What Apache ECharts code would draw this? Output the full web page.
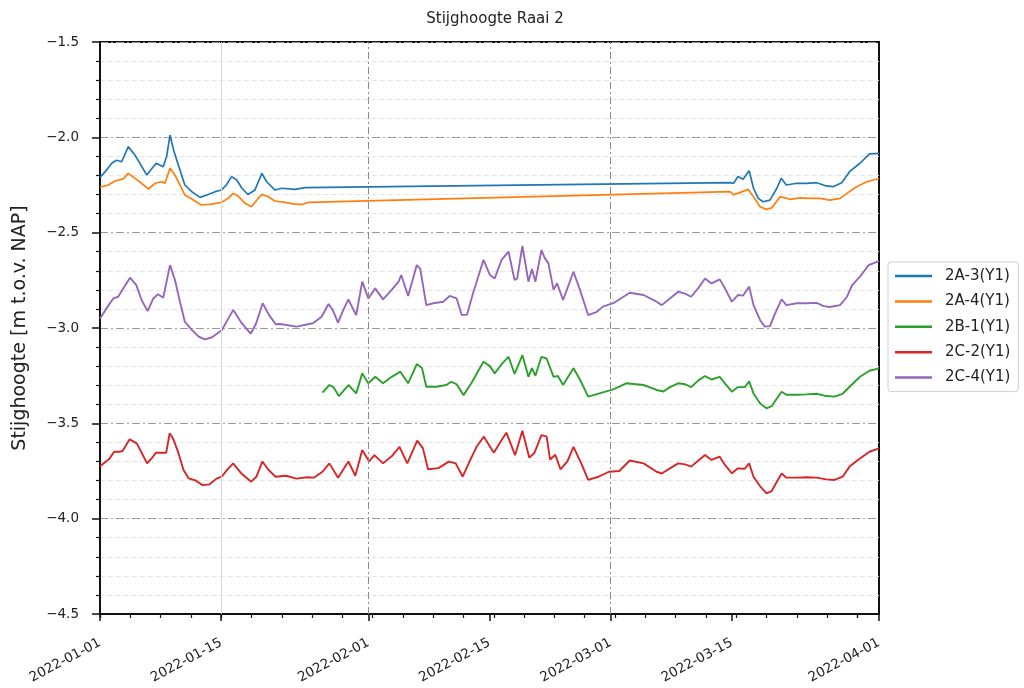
<!DOCTYPE html>
<html>
<head>
<meta charset="utf-8">
<title>Stijghoogte Raai 2</title>
<script src="https://cdn.jsdelivr.net/npm/echarts@6/dist/echarts.min.js"></script>
<style>
  html, body { margin: 0; padding: 0; background: #fff; }
  #chart { width: 1024px; height: 688px; }
</style>
</head>
<body>
<div id="chart"></div>
<script>
// day offsets from 2022-01-01, value in m t.o.v. NAP
const s2A3 = [[0,-2.21],[0.6,-2.18],[1.35,-2.136],[1.9,-2.12],[2.5,-2.128],[3.27,-2.049],[4.04,-2.093],[4.6,-2.135],[5.4,-2.198],[6.16,-2.154],[6.5,-2.136],[7.3,-2.154],[7.7,-2.10],[8.09,-1.988],[8.5,-2.066],[9.05,-2.145],[9.8,-2.25],[10.6,-2.285],[11.55,-2.315],[12.5,-2.30],[13.3,-2.285],[14.05,-2.276],[14.6,-2.25],[15.2,-2.206],[15.8,-2.224],[16.4,-2.267],[17.1,-2.30],[17.9,-2.276],[18.7,-2.189],[19.25,-2.233],[20.2,-2.276],[21,-2.267],[22.5,-2.273],[23.7,-2.264],[72.8,-2.238],[73.2,-2.241],[73.7,-2.206],[74.3,-2.22],[75.0,-2.175],[75.5,-2.267],[76.05,-2.32],[76.6,-2.338],[77.4,-2.329],[78.2,-2.267],[78.7,-2.215],[79.3,-2.25],[80.5,-2.241],[81.6,-2.241],[82.8,-2.238],[83.9,-2.255],[84.7,-2.259],[85.7,-2.238],[86.6,-2.18],[87.8,-2.136],[88.9,-2.087],[90,-2.084]];
const s2A4 = [[0,-2.262],[0.96,-2.25],[1.73,-2.229],[2.7,-2.218],[3.27,-2.189],[4.04,-2.215],[4.8,-2.241],[5.6,-2.271],[6.35,-2.241],[7.1,-2.233],[7.5,-2.241],[8.09,-2.162],[8.66,-2.198],[9.24,-2.25],[9.8,-2.302],[10.6,-2.323],[11.7,-2.355],[12.9,-2.35],[14.05,-2.341],[14.8,-2.32],[15.4,-2.294],[16,-2.31],[16.75,-2.346],[17.5,-2.364],[18.1,-2.33],[18.7,-2.299],[19.4,-2.31],[20.2,-2.334],[21.4,-2.341],[22.5,-2.35],[23.3,-2.352],[24.1,-2.341],[72.8,-2.285],[73.2,-2.302],[73.9,-2.29],[74.9,-2.273],[75.5,-2.311],[76.25,-2.364],[77.0,-2.378],[77.6,-2.37],[78.6,-2.311],[79.7,-2.325],[80.9,-2.318],[82.0,-2.32],[83.2,-2.32],[84.3,-2.329],[85.5,-2.32],[86.3,-2.294],[87.4,-2.259],[88.6,-2.233],[90,-2.216]];
const s2B1 = [[25.7,-3.339],[26.5,-3.299],[26.95,-3.31],[27.6,-3.357],[28.7,-3.299],[29.6,-3.343],[30.3,-3.238],[31,-3.29],[31.8,-3.256],[32.7,-3.29],[33.7,-3.256],[34.7,-3.229],[35.6,-3.29],[36.6,-3.189],[37.2,-3.21],[37.7,-3.308],[38.9,-3.308],[40.0,-3.299],[40.6,-3.282],[41.2,-3.295],[42,-3.352],[42.9,-3.29],[44.3,-3.177],[45.05,-3.2],[45.6,-3.238],[46.4,-3.19],[47.2,-3.151],[47.9,-3.241],[48.8,-3.142],[49.5,-3.256],[49.9,-3.21],[50.3,-3.25],[51.0,-3.151],[51.6,-3.16],[52.4,-3.256],[52.9,-3.252],[53.5,-3.299],[54.7,-3.211],[55.45,-3.27],[56.4,-3.36],[57.4,-3.347],[58.3,-3.335],[59.3,-3.322],[60.8,-3.29],[62.8,-3.299],[64.3,-3.325],[65.1,-3.333],[65.85,-3.31],[66.8,-3.29],[67.6,-3.295],[68.3,-3.31],[69.1,-3.276],[69.9,-3.252],[70.65,-3.27],[71.6,-3.256],[72.2,-3.29],[73.0,-3.334],[73.7,-3.31],[74.5,-3.31],[75.0,-3.28],[75.5,-3.343],[76.25,-3.395],[77.0,-3.421],[77.6,-3.41],[78.2,-3.37],[78.75,-3.334],[79.3,-3.35],[80.5,-3.35],[81.6,-3.348],[82.8,-3.345],[83.9,-3.357],[84.85,-3.36],[85.8,-3.345],[86.6,-3.308],[87.8,-3.256],[88.9,-3.224],[90,-3.212]];
const s2C2 = [[0,-3.725],[1.03,-3.689],[1.63,-3.649],[2.23,-3.649],[2.6,-3.645],[3.43,-3.584],[4.24,-3.605],[4.84,-3.657],[5.44,-3.71],[6.04,-3.68],[6.45,-3.654],[7.25,-3.654],[7.65,-3.654],[8.05,-3.552],[8.45,-3.58],[9.05,-3.654],[9.65,-3.745],[10.25,-3.789],[11.05,-3.80],[11.85,-3.824],[12.66,-3.82],[13.46,-3.79],[14.06,-3.78],[14.66,-3.745],[15.39,-3.71],[16.27,-3.76],[17.47,-3.806],[18.07,-3.78],[18.76,-3.701],[19.48,-3.745],[20.28,-3.78],[21.5,-3.775],[22.7,-3.79],[23.9,-3.783],[24.7,-3.785],[25.7,-3.754],[26.5,-3.71],[27.5,-3.785],[28.7,-3.70],[29.5,-3.775],[30.3,-3.64],[31.1,-3.70],[31.7,-3.667],[32.7,-3.71],[33.7,-3.673],[34.6,-3.623],[35.5,-3.71],[36.65,-3.591],[37.3,-3.63],[37.9,-3.741],[39.1,-3.735],[40.3,-3.701],[41.1,-3.71],[41.9,-3.78],[42.7,-3.70],[43.5,-3.623],[44.35,-3.57],[45.5,-3.654],[46.4,-3.588],[46.95,-3.549],[47.95,-3.667],[48.8,-3.539],[49.6,-3.68],[50.2,-3.654],[51.0,-3.562],[51.6,-3.57],[52.0,-3.69],[52.6,-3.665],[53.2,-3.741],[54.0,-3.70],[54.7,-3.623],[55.6,-3.71],[56.4,-3.797],[57.6,-3.78],[58.8,-3.754],[60.0,-3.75],[61.2,-3.695],[62.8,-3.71],[64.3,-3.754],[64.9,-3.763],[65.85,-3.736],[66.8,-3.71],[67.6,-3.715],[68.3,-3.727],[69.1,-3.696],[69.9,-3.666],[70.65,-3.692],[71.6,-3.675],[72.2,-3.718],[73.0,-3.762],[73.7,-3.736],[74.5,-3.738],[75.0,-3.71],[75.5,-3.78],[76.25,-3.829],[77.0,-3.867],[77.6,-3.855],[78.2,-3.806],[78.75,-3.763],[79.3,-3.785],[80.5,-3.785],[81.6,-3.783],[82.8,-3.785],[83.9,-3.794],[84.85,-3.797],[85.8,-3.78],[86.6,-3.727],[87.8,-3.684],[88.9,-3.649],[90,-3.631]];
const s2C4 = [[0,-2.95],[1,-2.88],[1.54,-2.845],[2.1,-2.836],[2.7,-2.792],[3.47,-2.736],[4.2,-2.775],[4.8,-2.853],[5.5,-2.911],[6.16,-2.845],[6.7,-2.823],[7.3,-2.841],[8.09,-2.67],[8.66,-2.748],[9.24,-2.862],[9.8,-2.967],[10.6,-3.01],[11.4,-3.045],[12.1,-3.06],[12.9,-3.05],[13.5,-3.03],[14.1,-3.01],[14.7,-2.96],[15.4,-2.905],[16.3,-2.97],[17.4,-3.03],[18.0,-2.98],[18.8,-2.87],[19.5,-2.93],[20.3,-2.98],[20.8,-2.979],[22.7,-2.993],[24.6,-2.975],[25.6,-2.941],[26.4,-2.874],[26.9,-2.906],[27.5,-2.972],[28.1,-2.906],[28.7,-2.85],[29.1,-2.888],[29.6,-2.932],[30.3,-2.757],[31,-2.845],[31.8,-2.792],[32.7,-2.85],[33.7,-2.80],[34.5,-2.757],[34.8,-2.722],[35.6,-2.832],[36.6,-2.67],[37,-2.69],[37.7,-2.88],[38.5,-2.87],[39.65,-2.862],[40.4,-2.832],[41.2,-2.845],[41.8,-2.932],[42.4,-2.93],[43.1,-2.818],[44.3,-2.643],[45.05,-2.722],[45.6,-2.74],[46.4,-2.643],[47.2,-2.60],[47.9,-2.748],[48.2,-2.74],[48.8,-2.57],[49.5,-2.757],[49.9,-2.69],[50.3,-2.757],[51.0,-2.591],[51.4,-2.635],[51.8,-2.66],[52.4,-2.80],[52.8,-2.765],[53.5,-2.853],[54.7,-2.705],[55.45,-2.80],[56.4,-2.932],[57.4,-2.915],[58.1,-2.888],[59.3,-2.87],[60.8,-2.827],[61.2,-2.815],[62.8,-2.827],[64.3,-2.862],[64.9,-2.88],[65.85,-2.845],[66.8,-2.81],[67.6,-2.82],[68.3,-2.836],[69.1,-2.792],[69.9,-2.74],[70.65,-2.766],[71.6,-2.745],[72.2,-2.792],[73.0,-2.862],[73.7,-2.827],[74.3,-2.83],[75.0,-2.783],[75.5,-2.88],[76.25,-2.958],[76.8,-2.993],[77.4,-2.99],[78,-2.923],[78.75,-2.85],[79.3,-2.88],[80.5,-2.87],[81.6,-2.87],[82.8,-2.868],[83.6,-2.885],[84.3,-2.89],[85.5,-2.88],[86.3,-2.836],[86.9,-2.775],[87.8,-2.731],[88.8,-2.67],[90,-2.649]];

const seriesNames = ['2A-3(Y1)', '2A-4(Y1)', '2B-1(Y1)', '2C-2(Y1)', '2C-4(Y1)'];
const seriesColors = ['#1f77b4', '#ff7f0e', '#2ca02c', '#d62728', '#9467bd'];
const xTickDates = ['2022-01-01', '2022-01-15', '2022-02-01', '2022-02-15', '2022-03-01', '2022-03-15', '2022-04-01'];
const yTicks = [-4.5, -4.0, -3.5, -3.0, -2.5, -2.0, -1.5];

const DAY = 86400000;
const base = new Date(2022, 0, 1).getTime();
function toTime(d) { return base + d * DAY; }
function parseDate(s) { const p = s.split('-'); return new Date(+p[0], +p[1] - 1, +p[2]).getTime(); }

const tickTimes = xTickDates.map(parseDate);
const minorTimes = [];
for (let d = 0; d <= 90; d += 3.5) minorTimes.push(toTime(d));

const font = 'DejaVu Sans';
const chart = echarts.init(document.getElementById('chart'), null, { renderer: 'canvas' });

const seriesData = [s2A3, s2A4, s2B1, s2C2, s2C4];
const widths = [1.7, 1.7, 1.9, 1.9, 1.9];

const series = seriesData.map((arr, i) => ({
  name: seriesNames[i],
  type: 'line',
  showSymbol: false,
  symbol: 'none',
  z: 3,
  color: seriesColors[i],
  lineStyle: { width: widths[i], color: seriesColors[i] },
  data: arr.map(p => [toTime(p[0]), p[1]])
}));

// vertical grid lines
series.push({
  type: 'line',
  data: [],
  z: 1,
  silent: true,
  markLine: {
    silent: true,
    symbol: ['none', 'none'],
    label: { show: false },
    animation: false,
    data: [
      { xAxis: parseDate('2022-01-15'), lineStyle: { color: '#d8d8d8', width: 1, type: 'solid' } },
      { xAxis: parseDate('2022-02-01'), lineStyle: { color: '#8a8a8a', width: 1, type: [7, 3, 2, 3] } },
      { xAxis: parseDate('2022-03-01'), lineStyle: { color: '#8a8a8a', width: 1, type: [7, 3, 2, 3] } }
    ]
  }
});

const option = {
  animation: false,
  backgroundColor: '#fff',
  textStyle: { fontFamily: font },
  title: {
    text: 'Stijghoogte Raai 2',
    left: 490,
    top: 7,
    textAlign: 'center',
    textStyle: { fontFamily: font, fontSize: 15, fontWeight: 'normal', color: '#222' }
  },
  legend: {
    orient: 'vertical',
    left: 888,
    top: 262,
    padding: [5, 8, 5, 7],
    itemGap: 7.4,
    itemWidth: 37,
    itemHeight: 2.5,
    icon: 'rect',
    backgroundColor: '#fff',
    borderColor: '#cfcfcf',
    borderWidth: 1,
    borderRadius: 3,
    textStyle: { fontFamily: font, fontSize: 15, color: '#222', lineHeight: 18, padding: [0, 0, 0, 8] },
    data: seriesNames
  },
  grid: {
    left: 100,
    right: 145,
    top: 42,
    bottom: 74,
    show: true,
    borderColor: '#111',
    borderWidth: 2,
    containLabel: false
  },
  xAxis: [
    {
      type: 'time',
      min: toTime(0),
      max: toTime(90),
      axisLine: { show: true, lineStyle: { color: '#111', width: 2 } },
      axisTick: { show: true, length: 7, lineStyle: { color: '#111', width: 1.5 }, customValues: tickTimes },
      axisLabel: {
        customValues: tickTimes,
        rotate: 28,
        margin: 28,
        fontFamily: font,
        fontSize: 13.5,
        color: '#222',
        formatter: '{yyyy}-{MM}-{dd}'
      },
      splitLine: { show: false }
    },
    {
      type: 'time',
      position: 'bottom',
      min: toTime(0),
      max: toTime(90),
      axisLine: { show: false },
      axisTick: { show: true, length: 4, lineStyle: { color: '#111', width: 1.2 }, customValues: minorTimes },
      axisLabel: { show: false },
      splitLine: { show: false }
    }
  ],
  yAxis: {
    type: 'value',
    min: -4.5,
    max: -1.5,
    interval: 0.5,
    name: 'Stijghoogte [m t.o.v. NAP]',
    nameLocation: 'middle',
    nameGap: 70,
    nameTextStyle: { fontFamily: font, fontSize: 19, color: '#222' },
    axisLine: { show: true, lineStyle: { color: '#111', width: 2 } },
    axisTick: { show: true, length: 8, lineStyle: { color: '#111', width: 1.5 } },
    minorTick: { show: true, splitNumber: 5, length: 4, lineStyle: { color: '#111', width: 1.2 } },
    axisLabel: {
      margin: 21,
      fontFamily: font,
      fontSize: 13.5,
      color: '#222',
      formatter: v => (yTicks.includes(+v.toFixed(1)) ? v.toFixed(1).replace('-', '\u2212') : '')
    },
    splitLine: { show: true, lineStyle: { color: '#9a9a9a', width: 1, type: [8, 3, 2, 3] } },
    minorSplitLine: { show: true, lineStyle: { color: '#e4e4e4', width: 1, type: [5, 3] } }
  },
  series: series
};

chart.setOption(option);
</script>
</body>
</html>
